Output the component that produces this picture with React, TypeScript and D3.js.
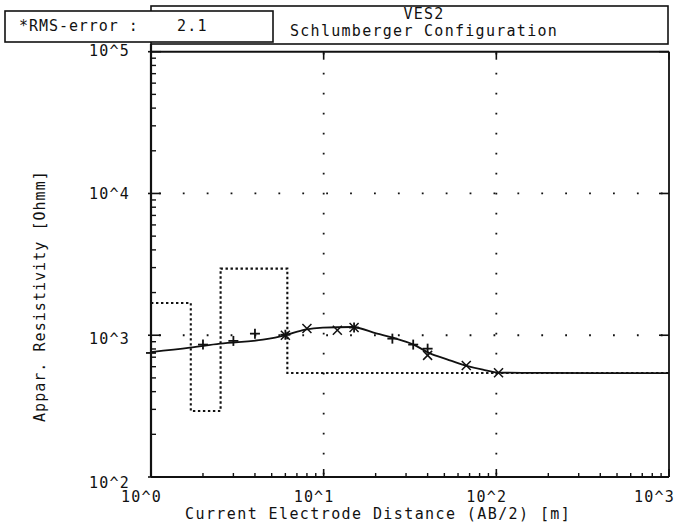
import React from 'react';
import * as d3 from 'd3';

// ---- data ----
const calcAB = [1, 1.68, 2.51, 4.45, 5.98, 7.79, 9.9, 14.6, 20.4, 25.2, 32.9, 41.3, 51.8, 65.8, 83.6, 103.5, 179, 1000];
const calcRho = [761, 817, 873, 931, 998, 1096, 1133, 1143, 1026, 961, 863, 745, 676, 613, 571, 545, 542, 540];
const modelRho = [1690, 292, 2950, 541];
const modelBounds = [1.7, 2.53, 6.16];
const plusAB = [1, 2, 3, 4, 6, 15, 25, 33, 40];
const plusRho = [750, 859, 912, 1026, 1008, 1133, 946, 859, 804];
const crossAB = [6, 8, 12, 15, 40, 67, 103];
const crossRho = [1000, 1114, 1083, 1133, 721, 612, 544];
const xTickValues = [1, 10, 100, 1000];
const xTickLabels = ['10^0', '10^1', '10^2', '10^3'];
const yTickValues = [100, 1000, 10000, 100000];
const yTickLabels = ['10^2', '10^3', '10^4', '10^5'];
const titleLines = ['VES2', 'Schlumberger Configuration'];
const rmsLabel = '*RMS-error :';
const rmsValue = '2.1';
const xLabel = 'Current Electrode Distance (AB/2) [m]';
const yLabel = 'Appar. Resistivity [Ohmm]';

const W = 677, H = 528;
const L = 151, R = 669, T = 51.7, B = 477;
const FONT = "'DejaVu Sans Mono', 'Liberation Mono', monospace";
const yLabelOffsets = [11, 9, 6, 4];

export default function App() {
  const x = d3.scaleLog().domain([1, 1000]).range([L, R]);
  const y = d3.scaleLog().domain([100, 100000]).range([B, T]);

  const minor = (lo: number, hi: number) => {
    const out: number[] = [];
    for (let d = lo; d < hi; d *= 10) for (let k = 2; k <= 9; k++) out.push(d * k);
    return out;
  };
  const xMinor = minor(1, 1000);
  const yMinor = minor(100, 100000);

  const line = d3.line<[number, number]>().x(d => x(d[0])).y(d => y(d[1])).curve(d3.curveMonotoneX);
  const calcPath = line(calcAB.map((a, i) => [a, calcRho[i]] as [number, number])) || '';

  const modelPts: [number, number][] = [];
  modelPts.push([1, modelRho[0]]);
  modelBounds.forEach((b, i) => {
    modelPts.push([b, modelRho[i]]);
    modelPts.push([b, modelRho[i + 1]]);
  });
  modelPts.push([1000, modelRho[modelRho.length - 1]]);
  const modelPath = d3.line<[number, number]>().x(d => x(d[0])).y(d => y(d[1]))(modelPts) || '';

  const ts = { fontFamily: FONT, fontSize: 15, letterSpacing: 1.2, fill: '#111' } as React.CSSProperties;

  return (
    <svg width={W} height={H} style={{ position: 'absolute', left: 0, top: 0, background: '#fff' }}>
      <rect x={0} y={0} width={W} height={H} fill="#fff" />
      {/* title box */}
      <rect x={151} y={6} width={517} height={38} fill="#fff" stroke="#111" strokeWidth={1.6} />
      <text x={424} y={19} textAnchor="middle" style={ts}>{titleLines[0]}</text>
      <text x={424} y={36} textAnchor="middle" style={ts} textLength={268} lengthAdjust="spacing">{titleLines[1]}</text>
      {/* RMS box */}
      <rect x={5} y={11} width={268} height={31} fill="#fff" stroke="#111" strokeWidth={1.6} />
      <text x={19} y={31} style={ts} textLength={120} lengthAdjust="spacing">{rmsLabel}</text>
      <text x={177} y={31} style={ts}>{rmsValue}</text>

      {/* grid */}
      {[10, 100].map(v => (
        <line key={'gx' + v} x1={x(v)} x2={x(v)} y1={T} y2={B} stroke="#111" strokeWidth={1.8}
          strokeDasharray="1.8 18.2" strokeDashoffset={-1} />
      ))}
      {[1000, 10000].map(v => (
        <line key={'gy' + v} x1={L} x2={R} y1={y(v)} y2={y(v)} stroke="#111" strokeWidth={1.8}
          strokeDasharray="1.8 22.1" strokeDashoffset={16} />
      ))}

      {/* model */}
      <path d={modelPath} fill="none" stroke="#111" strokeWidth={2.1} strokeDasharray="2.4 2.6" />
      {/* calculated curve */}
      <path d={calcPath} fill="none" stroke="#111" strokeWidth={1.8} />

      {/* markers */}
      {plusAB.map((a, i) => {
        const cx = x(a), cy = y(plusRho[i]);
        return (
          <g key={'p' + i} stroke="#111" strokeWidth={1.8}>
            <line x1={cx - 5} x2={cx + 5} y1={cy} y2={cy} />
            <line x1={cx} x2={cx} y1={cy - 5} y2={cy + 5} />
          </g>
        );
      })}
      {crossAB.map((a, i) => {
        const cx = x(a), cy = y(crossRho[i]);
        return (
          <g key={'c' + i} stroke="#111" strokeWidth={1.5}>
            <line x1={cx - 4.5} x2={cx + 4.5} y1={cy - 4.5} y2={cy + 4.5} />
            <line x1={cx - 4.5} x2={cx + 4.5} y1={cy + 4.5} y2={cy - 4.5} />
          </g>
        );
      })}

      {/* frame */}
      <line x1={L} x2={L} y1={44} y2={B} stroke="#111" strokeWidth={2.2} />
      <line x1={L} x2={R} y1={B} y2={B} stroke="#111" strokeWidth={1.8} />
      <line x1={R} x2={R} y1={T} y2={B} stroke="#111" strokeWidth={1.8} />
      <line x1={L} x2={R} y1={T} y2={T} stroke="#111" strokeWidth={2} />

      {/* ticks */}
      {xMinor.map((v, i) => (
        <line key={'xm' + i} x1={x(v)} x2={x(v)} y1={B} y2={B - 4} stroke="#111" strokeWidth={1.4} />
      ))}
      {xTickValues.map((v, i) => (
        <line key={'xM' + i} x1={x(v)} x2={x(v)} y1={B} y2={B - 8} stroke="#111" strokeWidth={1.6} />
      ))}
      {yMinor.map((v, i) => (
        <line key={'ym' + i} x1={L} x2={L + 5} y1={y(v)} y2={y(v)} stroke="#111" strokeWidth={1.4} />
      ))}
      {yTickValues.map((v, i) => (
        <line key={'yM' + i} x1={L - 3} x2={L + 10} y1={y(v)} y2={y(v)} stroke="#111" strokeWidth={1.6} />
      ))}
      {yTickValues.map((v, i) => (
        <line key={'yR' + i} x1={R - 10} x2={R} y1={y(v)} y2={y(v)} stroke="#111" strokeWidth={1.6} />
      ))}
      {xTickValues.map((v, i) => (
        <line key={'xT' + i} x1={x(v)} x2={x(v)} y1={T} y2={T + 8} stroke="#111" strokeWidth={1.6} />
      ))}

      {/* tick labels */}
      {xTickLabels.map((t, i) => (
        <text key={'xl' + i} x={Math.min(x(xTickValues[i]) - 30, W - 43)} y={502} style={ts}>{t}</text>
      ))}
      {yTickLabels.map((t, i) => (
        <text key={'yl' + i} x={89} y={y(yTickValues[i]) + yLabelOffsets[i]} style={ts}>{t}</text>
      ))}

      {/* axis titles */}
      <text x={378} y={519} textAnchor="middle" style={ts} textLength={386} lengthAdjust="spacing">{xLabel}</text>
      <text transform={`translate(45,296) rotate(-90)`} textAnchor="middle" style={ts} textLength={252} lengthAdjust="spacing">{yLabel}</text>
    </svg>
  );
}
